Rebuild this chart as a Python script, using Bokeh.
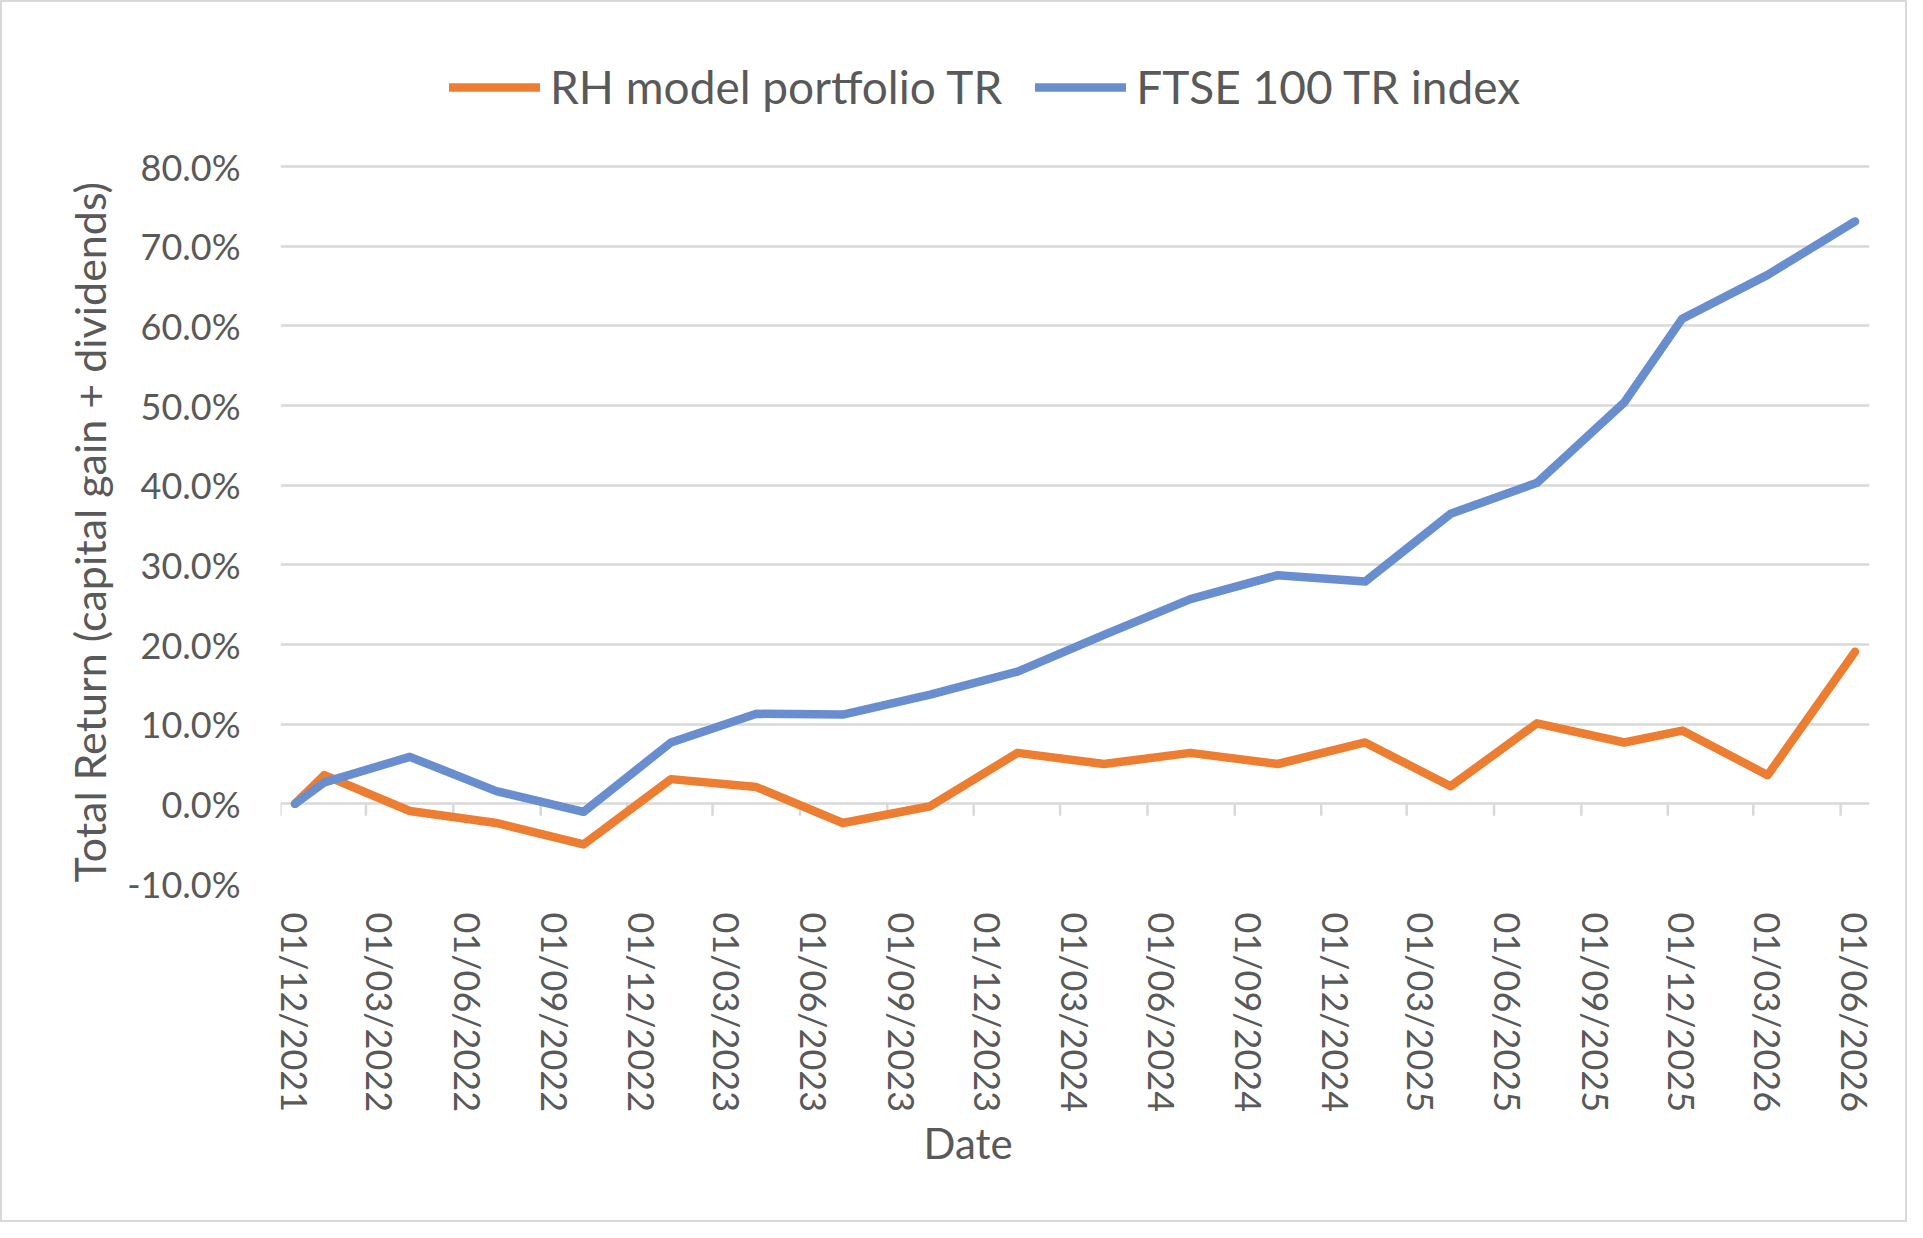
import pandas as pd
from bokeh.plotting import figure
from bokeh.models import (FixedTicker, DatetimeTickFormatter, PrintfTickFormatter,
                          Range1d, Legend, LegendItem, Title, ColumnDataSource)
from bokeh.embed import file_html
from bokeh.resources import INLINE

# ---------------- data ----------------
dates = ["2021-12-01", "2022-01-01", "2022-04-01", "2022-07-01", "2022-10-01",
         "2023-01-01", "2023-04-01", "2023-07-01", "2023-10-01", "2024-01-01",
         "2024-04-01", "2024-07-01", "2024-10-01", "2025-01-01", "2025-04-01",
         "2025-07-01", "2025-10-01", "2025-12-01", "2026-03-01", "2026-06-01"]
rh_model = [0.0, 3.6, -0.9, -2.4, -5.1, 3.1, 2.1, -2.4, -0.3, 6.4,
            5.0, 6.4, 5.0, 7.7, 2.2, 10.1, 7.7, 9.2, 3.6, 19.1]
ftse_100 = [0.0, 2.7, 5.9, 1.6, -1.0, 7.7, 11.3, 11.2, 13.7, 16.6,
            21.2, 25.7, 28.7, 27.9, 36.4, 40.3, 50.4, 60.9, 66.4, 73.1]
tick_dates = ["2021-12-01", "2022-03-01", "2022-06-01", "2022-09-01", "2022-12-01",
              "2023-03-01", "2023-06-01", "2023-09-01", "2023-12-01", "2024-03-01",
              "2024-06-01", "2024-09-01", "2024-12-01", "2025-03-01", "2025-06-01",
              "2025-09-01", "2025-12-01", "2026-03-01", "2026-06-01"]
y_ticks = [-10, 0, 10, 20, 30, 40, 50, 60, 70, 80]
series_names = ["RH model portfolio TR", "FTSE 100 TR index"]
x_title = "Date"
y_title = "Total Return (capital gain + dividends)"

ORANGE = "#ED7D31"
BLUE = "#698ED0"
TEXT = "#595959"
GRID = "#D9D9D9"
FONT = "Lato"


def ms(s):
    return pd.Timestamp(s).value / 1e6


n_months = (pd.Period(tick_dates[-1], "M") - pd.Period(tick_dates[0], "M")).n
half_month = (ms(tick_dates[-1]) - ms(tick_dates[0])) / n_months / 2.0
tick_ms = [ms(t) for t in tick_dates]
tick_mark_ms = [t - half_month for t in tick_ms]

# plot area: gridded part is 717 px for -10..80; extra blank room on top holds the legend
GRID_H = 717
EXTRA_TOP = 119
FRAME_H = GRID_H + EXTRA_TOP
y_top = y_ticks[-1] + (y_ticks[-1] - y_ticks[0]) * EXTRA_TOP / GRID_H

src = ColumnDataSource(dict(x=pd.to_datetime(dates), rh=rh_model, ftse=ftse_100))

p = figure(x_axis_type="datetime",
           frame_width=1589, frame_height=FRAME_H,
           min_border_left=278, min_border_right=36,
           min_border_top=45, min_border_bottom=337,
           x_range=Range1d(ms(dates[0]) - half_month, ms(dates[-1]) + half_month),
           y_range=Range1d(y_ticks[0], y_top),
           output_backend="svg", toolbar_location=None,
           background_fill_color="white", border_fill_color="white")
p.outline_line_color = None
p.styles = {"border": "2px solid #D9D9D9"}

# grid
p.xgrid.grid_line_color = None
p.ygrid.grid_line_color = GRID
p.ygrid.grid_line_width = 2.5

# axis tick marks on the 0 line (between months)
p.segment(x0=tick_mark_ms, y0=[0] * len(tick_mark_ms),
          x1=tick_mark_ms, y1=[-1.5] * len(tick_mark_ms),
          line_color=GRID, line_width=2.5)

# series
r1 = p.line("x", "rh", source=src, line_color=ORANGE, line_width=8.5,
            line_cap="round", line_join="round")
r2 = p.line("x", "ftse", source=src, line_color=BLUE, line_width=8.5,
            line_cap="round", line_join="round")

# y axis
ya = p.yaxis[0]
ya.ticker = FixedTicker(ticks=y_ticks)
ya.formatter = PrintfTickFormatter(format="%.1f%%")
ya.axis_line_color = None
ya.major_tick_line_color = None
ya.minor_tick_line_color = None
ya.major_tick_in = 0
ya.major_tick_out = 0
ya.major_label_standoff = 40
ya.major_label_text_font = FONT
ya.major_label_text_font_size = "36px"
ya.major_label_text_color = TEXT

p.add_layout(Title(text=y_title, align="left", offset=1, standoff=19,
                   text_font=FONT, text_font_size="43px", text_font_style="normal",
                   text_color=TEXT), "left")

# x axis
xa = p.xaxis[0]
xa.ticker = FixedTicker(ticks=tick_ms)
fmt = "%d/%m/%Y"
xa.formatter = DatetimeTickFormatter(milliseconds=fmt, seconds=fmt, minsec=fmt, minutes=fmt,
                                     hourmin=fmt, hours=fmt, days=fmt, months=fmt, years=fmt)
xa.major_label_orientation = "vertical"
xa.axis_line_color = None
xa.major_tick_line_color = None
xa.minor_tick_line_color = None
xa.major_tick_in = 0
xa.major_tick_out = 0
xa.major_label_standoff = 29
xa.major_label_text_font = FONT
xa.major_label_text_font_size = "36px"
xa.major_label_text_color = TEXT

p.add_layout(Title(text=x_title, align="left", offset=643, standoff=0,
                   text_font=FONT, text_font_size="42px", text_font_style="normal",
                   text_color=TEXT), "below")

# legend (in the blank band above the gridded area)
legend = Legend(items=[LegendItem(label=series_names[0], renderers=[r1]),
                       LegendItem(label=series_names[1], renderers=[r2])],
                orientation="horizontal", location=(169, FRAME_H - 67),
                label_text_font=FONT, label_text_font_size="46px",
                label_text_color=TEXT, glyph_width=91, glyph_height=54,
                label_height=54, label_standoff=10, spacing=33,
                padding=0, margin=0, border_line_color=None,
                background_fill_alpha=0)
p.add_layout(legend)

open("out.html", "w").write(file_html(p, INLINE))
